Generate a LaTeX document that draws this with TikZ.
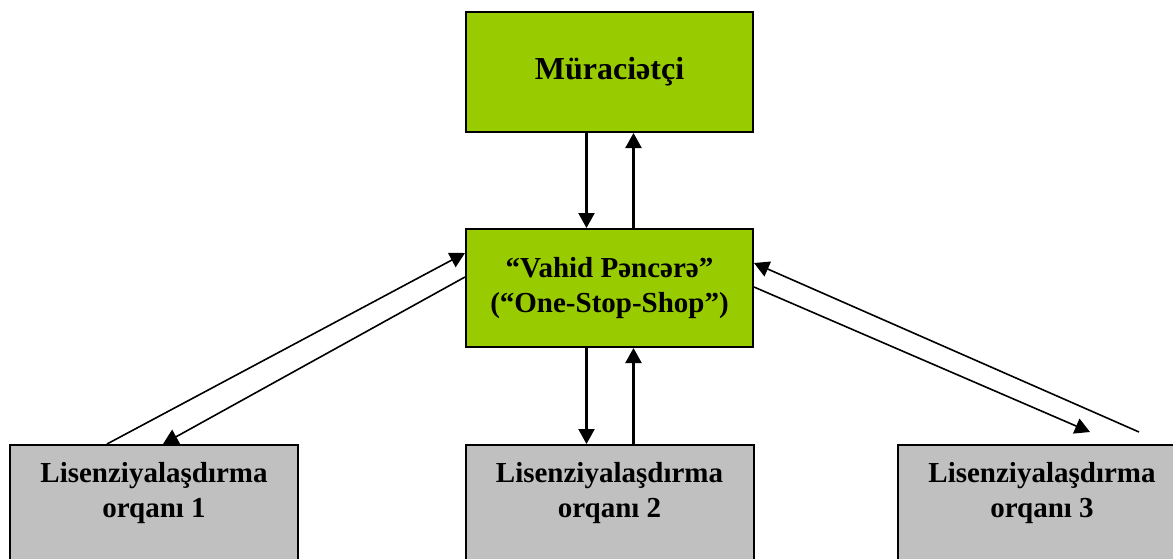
\documentclass[tikz,border=0pt]{standalone}
\usepackage{fontspec}
\setmainfont{Liberation Serif}
\usepackage{xcolor}
\usetikzlibrary{arrows.meta}

\definecolor{AppGreen}{HTML}{99CC00}
\definecolor{OrgGray}{HTML}{C0C0C0}

\tikzset{
    greenbox/.style={draw, line width=2pt, fill=AppGreen, minimum width=287pt, inner sep=0pt},
    graybox/.style={draw, line width=2pt, fill=OrgGray, minimum width=288pt, minimum height=130pt, anchor=north, inner sep=0pt},
    boxtext/.style={font=\bfseries\fontsize{29}{35}\selectfont, align=center, anchor=north},
    flow/.style={-{Triangle[width=16pt,length=15pt]}, line width=1.6pt},
    vflow/.style={flow, line width=2.2pt},
}

\begin{document}
\begin{tikzpicture}[x=1pt, y=-1pt]
            % Setup and bounding box
            \useasboundingbox (0,0) rectangle (1173,558);
            \clip (0,0) rectangle (1173,558);

            % Applicant
            \node (applicant) at (609.5,72) [greenbox, minimum height=120pt, font=\bfseries\fontsize{32}{38}\selectfont] {Müraciətçi};

            % One-Stop-Shop
            \node (window) at (609.5,288) [greenbox, minimum height=118pt, font=\bfseries\fontsize{29}{35}\selectfont, align=center] {“Vahid Pəncərə”\\(“One-Stop-Shop”)};

            % Licensing bodies
            \foreach \i/\x in {1/154, 2/609.5, 3/1042} {
                \node (org\i) at (\x,444) [graybox] {};
                \node (org\i text) at (\x,459) [boxtext] {Lisenziyalaşdırma\\orqanı \i};
            }

            % Applicant <-> window
            \draw [vflow] ([xshift=-23pt]applicant.south) -- ([xshift=-23pt]window.north);
            \draw [vflow] ([xshift=24pt]window.north) -- ([xshift=24pt]applicant.south);

            % Window <-> organ 2
            \draw [vflow] ([xshift=-23pt]window.south) -- ([xshift=-23pt]org2.north);
            \draw [vflow] ([xshift=24pt]org2.north) -- ([xshift=24pt]window.south);

            % Window <-> organ 1
            \draw [flow] ([xshift=-47pt]org1.north) -- ([yshift=35pt]window.west);
            \draw [flow] ([yshift=11pt]window.west) -- ([xshift=9pt]org1.north);

            % Window <-> organ 3
            \draw [flow] ([xshift=97pt, yshift=12pt]org3.north) -- ([yshift=25pt]window.east);
            \draw [flow] ([yshift=1pt]window.east) -- ([xshift=48pt, yshift=12pt]org3.north);
\end{tikzpicture}
\end{document}
